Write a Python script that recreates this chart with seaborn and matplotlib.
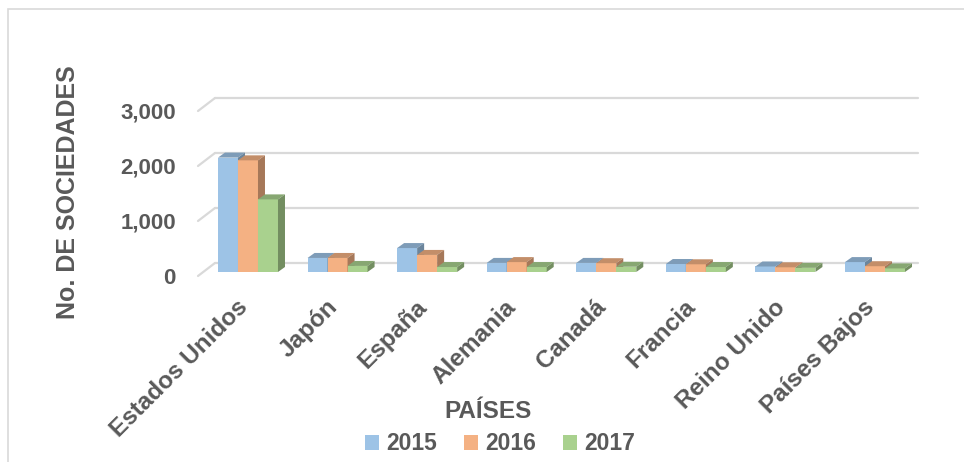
import numpy as np
import pandas as pd
import matplotlib
matplotlib.use("Agg")
import matplotlib.pyplot as plt
import matplotlib.transforms as mtransforms
from matplotlib.patches import Polygon, Rectangle
import seaborn as sns

# Data
paises = ["Estados Unidos", "Japón", "España", "Alemania", "Canadá",
          "Francia", "Reino Unido", "Países Bajos"]
anios = ["2015", "2016", "2017"]
v2015 = [2080, 255, 435, 165, 165, 145, 100, 180]
v2016 = [2030, 255, 310, 180, 160, 140, 85, 105]
v2017 = [1320, 110, 90, 90, 95, 90, 75, 65]
yticks = [0, 1000, 2000, 3000]

colores = ["#9DC3E6", "#F4B183", "#A9D18E"]
gris = "#595959"

df = pd.DataFrame({
    "pais": paises * 3,
    "anio": np.repeat(anios, len(paises)),
    "valor": v2015 + v2016 + v2017,
})

sns.set_style("white")
plt.rcParams["font.family"] = ["Liberation Sans", "DejaVu Sans"]
plt.rcParams["font.weight"] = "bold"

W, H = 964, 462
fig = plt.figure(figsize=(W / 100, H / 100), dpi=100)

# axes: left 198px, right 918px, bottom 276px, top 85px
ax = fig.add_axes([198 / W, (H - 276) / H, 720 / W, 191 / H])
sns.barplot(data=df, x="pais", y="valor", hue="anio", palette=colores,
            width=0.67, gap=0, saturation=1, linewidth=0, ax=ax, zorder=3)

px_x = 720 / (7.48 + 0.558)        # px per category unit
ax.set_xlim(-0.558, 7.48)
ax.set_ylim(-73, 3400)
px_y = 191 / 3473                  # px per value unit

# back gridlines (offset up 9px) and slanted stubs at the front
back_x = 17 / 720
up = 9 / px_y
down = 4 / px_y
btrans = mtransforms.blended_transform_factory(ax.transAxes, ax.transData)
for v in yticks:
    ax.plot([0, back_x], [v - down, v + up], color="#D9D9D9", lw=1.6,
            transform=btrans, zorder=1, clip_on=False)
    ax.plot([back_x, 1], [v + up, v + up], color="#D9D9D9", lw=1.6,
            transform=btrans, zorder=1, clip_on=False)

# pseudo 3D faces built from the bars seaborn drew
dx = 7 / px_x
dy = 5 / px_y
def oscuro(c, f):
    r, g, b = matplotlib.colors.to_rgb(c)
    return (r * f, g * f, b * f)

for i, cont in enumerate(ax.containers):
    for p in cont.patches:
        p.set_zorder(3 + i)
        x, y0 = p.get_x(), p.get_y()
        w, h = p.get_width(), p.get_height()
        top = Polygon([(x, y0 + h), (x + w, y0 + h), (x + w + dx, y0 + h + dy),
                       (x + dx, y0 + h + dy)], closed=True,
                      fc=oscuro(colores[i], 0.8), lw=0, zorder=3 + i)
        side = Polygon([(x + w, y0), (x + w + dx, y0 + dy),
                        (x + w + dx, y0 + h + dy), (x + w, y0 + h)], closed=True,
                       fc=oscuro(colores[i], 0.68), lw=0, zorder=3 + i)
        ax.add_patch(top)
        ax.add_patch(side)

sns.despine(ax=ax, left=True, bottom=True)
ax.set_yticks(yticks)
ax.set_yticklabels([f"{v:,}" for v in yticks], fontsize=16, fontweight="bold",
                   color=gris)
ax.tick_params(axis="y", length=0, pad=16)
for lab in ax.get_yticklabels():
    lab.set_transform(lab.get_transform() +
                      mtransforms.ScaledTranslation(0, -0.04, fig.dpi_scale_trans))

ax.set_xticks(range(len(paises)))
ax.set_xticklabels(paises, rotation=45, ha="right", rotation_mode="anchor",
                   fontsize=17.5, fontweight="bold", color=gris)
ax.tick_params(axis="x", length=0, pad=14)
for lab in ax.get_xticklabels():
    lab.set_transform(lab.get_transform() +
                      mtransforms.ScaledTranslation(-0.12, 0, fig.dpi_scale_trans))
ax.set_xlabel("")
ax.set_ylabel("")

fig.text(68 / W, 1 - 192 / H, "No. DE SOCIEDADES", rotation=90, ha="center",
         va="center", fontsize=18, fontweight="bold", color=gris)
fig.text(488 / W, 1 - 411 / H, "PAÍSES", ha="center", va="center",
         fontsize=17.5, fontweight="bold", color=gris)

sns.move_legend(ax, "center", bbox_to_anchor=(500 / W, 1 - 444 / H),
                bbox_transform=fig.transFigure, ncol=3, frameon=False,
                title=None, fontsize=16.5, handlelength=0.6, handleheight=0.6,
                handletextpad=0.3, columnspacing=1.2)
for t in ax.get_legend().get_texts():
    t.set_color(gris)
    t.set_fontweight("bold")

fig.patches.append(Rectangle((8 / W, -0.1), 1.2, 1 - 9 / H + 0.1,
                             transform=fig.transFigure, fill=False,
                             ec="#D9D9D9", lw=1.2))

fig.savefig("out.png", dpi=100)
